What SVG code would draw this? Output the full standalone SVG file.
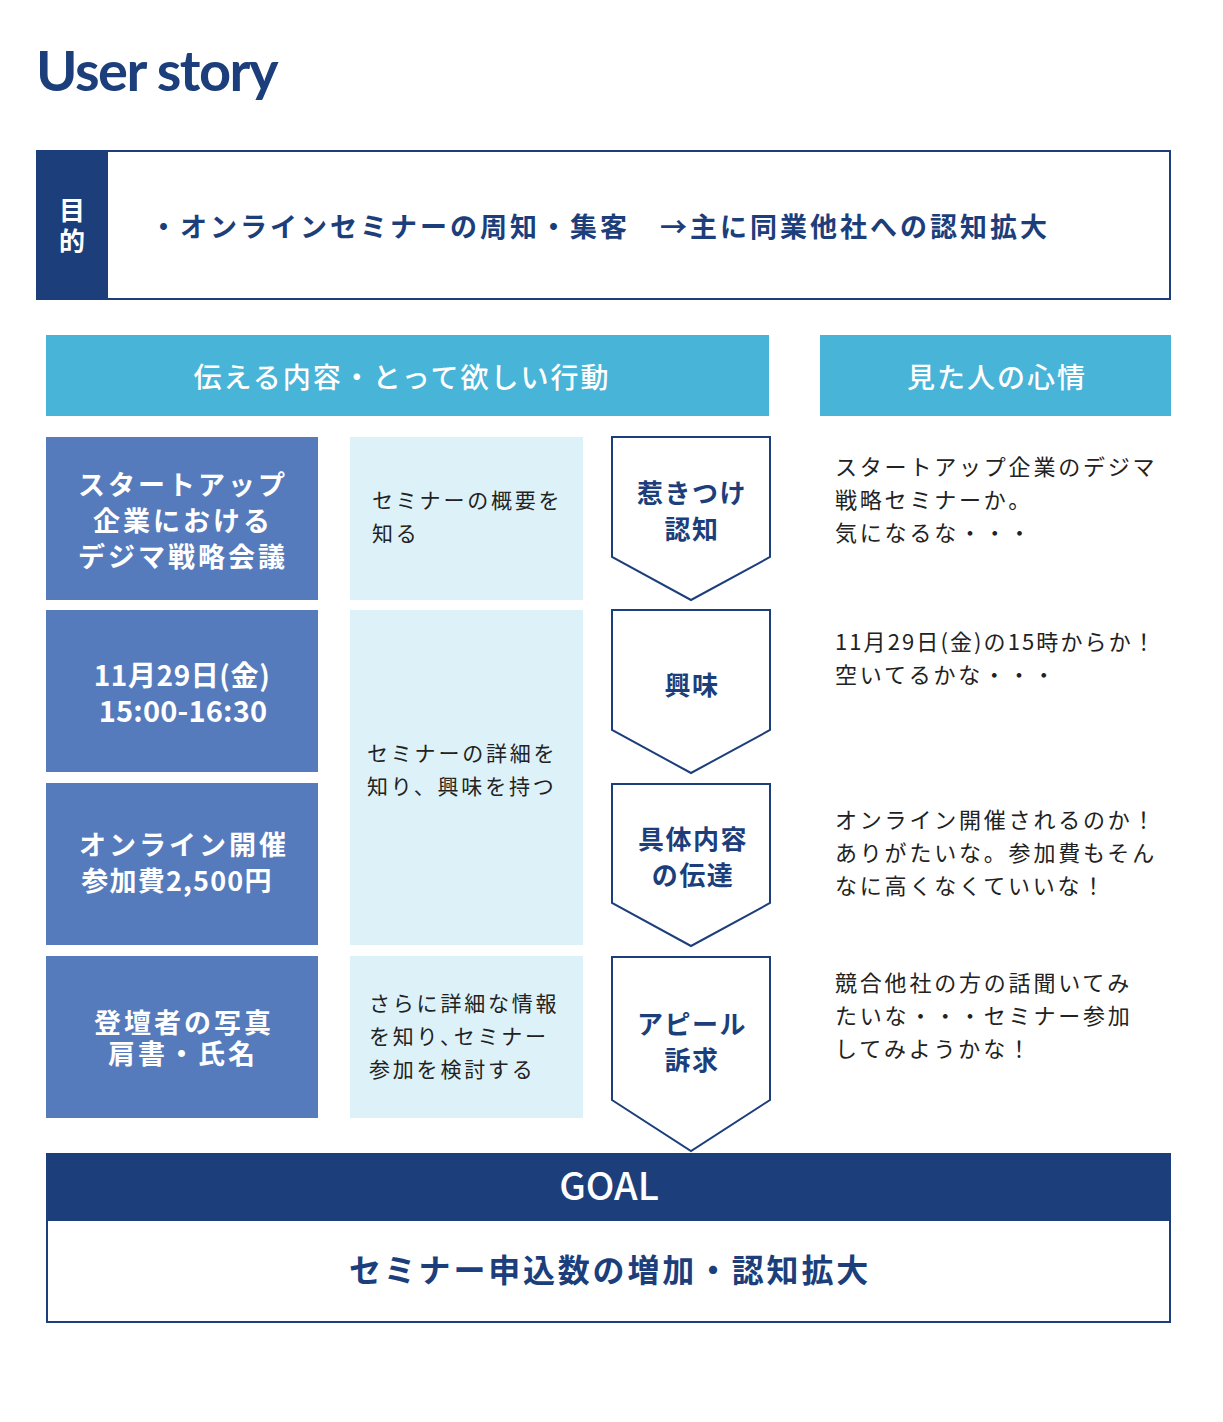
<svg xmlns="http://www.w3.org/2000/svg" width="1223" height="1422" viewBox="0 0 1223 1422">
<style>
  text { font-family: "Noto Sans CJK JP", "Noto Sans", sans-serif; }
  .navy { fill: #1c3f7c; }
  .hdr { fill: #47b4d8; }
  .hdrt { fill: #ffffff; font-size: 28px; font-weight: 500; letter-spacing: 2px; text-anchor: middle; }
  .lbox { fill: #557bbd; }
  .lt { fill: #ffffff; font-size: 27px; font-weight: 700; letter-spacing: 3px; text-anchor: middle; }
  .mbox { fill: #ddf2f8; }
  .mt { fill: #222222; font-size: 21px; font-weight: 400; letter-spacing: 2.8px; }
  .pent { fill: #ffffff; stroke: #1c3f7c; stroke-width: 2; }
  .pt { fill: #1c3f7c; font-size: 26px; font-weight: 700; letter-spacing: 1.5px; text-anchor: middle; }
  .rt { fill: #222222; font-size: 22px; font-weight: 400; letter-spacing: 2.8px; }
</style>
<rect width="1223" height="1422" fill="#ffffff"/>

<g id="title">
  <text x="36" y="91" style="font-family: Lato, 'Noto Sans', sans-serif; font-size: 56px; font-weight: 700; letter-spacing: -1.5px;" fill="#1c3f7c">User story</text>
</g>

<g id="purpose">
  <rect x="37" y="151" width="1133" height="148" fill="#ffffff" stroke="#1c3f7c" stroke-width="2"/>
  <rect x="36" y="150" width="72" height="150" class="navy"/>
  <text x="72" y="220" fill="#ffffff" font-size="26" font-weight="700" text-anchor="middle">目</text>
  <text x="72" y="251" fill="#ffffff" font-size="26" font-weight="700" text-anchor="middle">的</text>
  <text x="150" y="237" class="navy" font-size="27" font-weight="700" letter-spacing="3">・オンラインセミナーの周知・集客　→主に同業他社への認知拡大</text>
</g>

<g id="header-content">
  <rect x="46" y="335" width="723" height="81" class="hdr"/>
  <text x="402" y="388" class="hdrt">伝える内容・とって欲しい行動</text>
</g>
<g id="header-feeling">
  <rect x="820" y="335" width="351" height="81" class="hdr"/>
  <text x="997" y="388" class="hdrt">見た人の心情</text>
</g>

<g id="content-1">
  <rect x="46" y="437" width="272" height="163" class="lbox"/>
  <text x="183" y="495" class="lt">スタートアップ</text>
  <text x="183" y="531" class="lt">企業における</text>
  <text x="183" y="567" class="lt">デジマ戦略会議</text>
</g>
<g id="content-2">
  <rect x="46" y="610" width="272" height="162" class="lbox"/>
  <text x="182" y="686" class="lt" style="font-size: 28px; letter-spacing: 0.6px;">11月29日(金)</text>
  <text x="183" y="722" class="lt" style="font-size: 29px; letter-spacing: 0.2px;">15:00-16:30</text>
</g>
<g id="content-3">
  <rect x="46" y="783" width="272" height="162" class="lbox"/>
  <text x="184" y="855" class="lt">オンライン開催</text>
  <text x="177" y="891" class="lt" style="letter-spacing: 1.2px;">参加費2,500円</text>
</g>
<g id="content-4">
  <rect x="46" y="956" width="272" height="162" class="lbox"/>
  <text x="184" y="1033" class="lt">登壇者の写真</text>
  <text x="183" y="1064" class="lt">肩書・氏名</text>
</g>

<g id="action-1">
  <rect x="350" y="437" width="233" height="163" class="mbox"/>
  <text x="372" y="508" class="mt">セミナーの概要を</text>
  <text x="372" y="541" class="mt">知る</text>
</g>
<g id="action-2">
  <rect x="350" y="610" width="233" height="335" class="mbox"/>
  <text x="367" y="761" class="mt">セミナーの詳細を</text>
  <text x="367" y="794" class="mt">知り、興味を持つ</text>
</g>
<g id="action-3">
  <rect x="350" y="956" width="233" height="162" class="mbox"/>
  <text x="369" y="1011" class="mt">さらに詳細な情報</text>
  <text x="369" y="1044" class="mt">を知り､セミナー</text>
  <text x="369" y="1077" class="mt">参加を検討する</text>
</g>

<g id="stage-1">
  <polygon points="612,437 770,437 770,557 691,600 612,557" class="pent"/>
  <text x="692" y="503" class="pt">惹きつけ</text>
  <text x="692" y="539" class="pt">認知</text>
</g>
<g id="stage-2">
  <polygon points="612,610 770,610 770,730 691,773 612,730" class="pent"/>
  <text x="692" y="695" class="pt">興味</text>
</g>
<g id="stage-3">
  <polygon points="612,784 770,784 770,903 691,946 612,903" class="pent"/>
  <text x="693" y="849" class="pt">具体内容</text>
  <text x="693" y="885" class="pt">の伝達</text>
</g>
<g id="stage-4">
  <polygon points="612,957 770,957 770,1100 691,1151 612,1100" class="pent"/>
  <text x="692" y="1034" class="pt">アピール</text>
  <text x="692" y="1070" class="pt">訴求</text>
</g>

<g id="feeling-1">
  <text x="835" y="475" class="rt">スタートアップ企業のデジマ</text>
  <text x="835" y="508" class="rt">戦略セミナーか。</text>
  <text x="835" y="541" class="rt">気になるな・・・</text>
</g>
<g id="feeling-2">
  <text x="835" y="650" class="rt" style="letter-spacing: 2.1px;">11月29日(金)の15時からか！</text>
  <text x="835" y="683" class="rt">空いてるかな・・・</text>
</g>
<g id="feeling-3">
  <text x="835" y="828" class="rt">オンライン開催されるのか！</text>
  <text x="835" y="861" class="rt">ありがたいな。参加費もそん</text>
  <text x="835" y="894" class="rt">なに高くなくていいな！</text>
</g>
<g id="feeling-4">
  <text x="835" y="991" class="rt">競合他社の方の話聞いてみ</text>
  <text x="835" y="1024" class="rt">たいな・・・セミナー参加</text>
  <text x="835" y="1057" class="rt">してみようかな！</text>
</g>

<g id="goal">
  <rect x="47" y="1154" width="1123" height="168" fill="#ffffff" stroke="#1c3f7c" stroke-width="2"/>
  <rect x="46" y="1153" width="1125" height="68" class="navy"/>
  <text x="609" y="1200" fill="#ffffff" font-family="Roboto, 'Noto Sans', sans-serif" font-size="38" font-weight="500" text-anchor="middle">GOAL</text>
  <text x="610" y="1282" class="navy" font-size="32" font-weight="700" letter-spacing="2.8" text-anchor="middle">セミナー申込数の増加・認知拡大</text>
</g>

<g id="connectors"></g>
</svg>
